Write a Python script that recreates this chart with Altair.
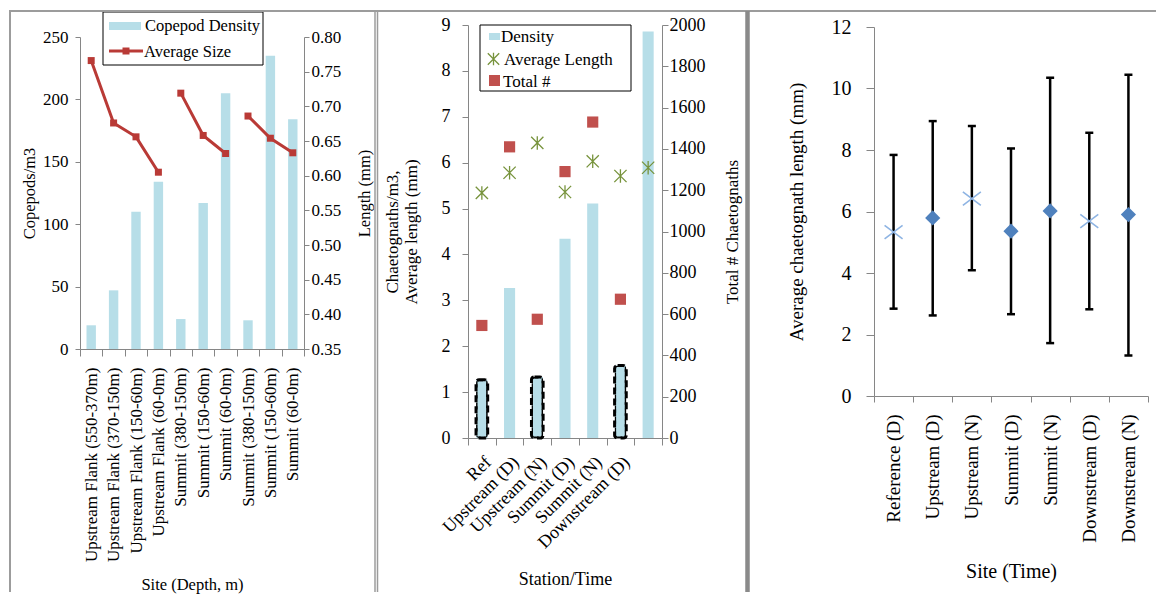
import json
import altair as alt
import pandas as pd

FONT = "Liberation Serif"
GREY = "#868686"
FRAME = "#9C9C9C"
FRAME_DARK = "#8A8A8A"
BLUE_BAR = "#B7DEE8"
RED_LINE = "#B93A36"
RED_SQ = "#C0504D"
GREEN = "#77933C"
DIAMOND = "#4F81BD"
XBLUE = "#8EB4E3"

# ---------------- Panel 1: copepods ----------------
cop_sites = [
    "Upstream Flank (550-370m)", "Upstream Flank (370-150m)", "Upstream Flank (150-60m)",
    "Upstream Flank (60-0m)", "Summit (380-150m)", "Summit (150-60m)", "Summit (60-0m)",
    "Summit (380-150m)", "Summit (150-60m)", "Summit (60-0m)",
]
cop_density = [19, 47, 110, 134, 24, 117, 205, 23, 235, 184]
cop_size = [0.766, 0.676, 0.656, 0.605, 0.719, 0.658, 0.632, 0.686, 0.654, 0.633]
cop_transect = [1, 1, 1, 1, 2, 2, 2, 3, 3, 3]
cop_size_ticks = [0.35, 0.40, 0.45, 0.50, 0.55, 0.60, 0.65, 0.70, 0.75, 0.80]

# ---------------- Panel 2: chaetognaths ----------------
stations = ["Ref", "Upstream (D)", "Upstream (N)", "Summit (D)", "Summit (N)",
            "Downstream (D)", "Downstream (N)"]
chaet_density = [1.27, 3.27, 1.33, 4.34, 5.11, 1.58, 8.86]
chaet_length = [5.34, 5.78, 6.43, 5.36, 6.03, 5.71, 5.89]
chaet_total = [545, 1410, 575, 1290, 1530, 672, None]
dashed_outline = [True, False, True, False, False, True, False]

# ---------------- Panel 3: chaetognath length ----------------
sites3 = ["Reference (D)", "Upstream (D)", "Upstream (N)", "Summit (D)", "Summit (N)",
          "Downstream (D)", "Downstream (N)"]
len_mean = [5.33, 5.79, 6.42, 5.36, 6.02, 5.69, 5.90]
len_upper = [7.84, 8.94, 8.78, 8.05, 10.35, 8.56, 10.45]
len_lower = [2.84, 2.62, 4.09, 2.66, 1.72, 2.82, 1.32]
marker_kind = ["x", "diamond", "x", "diamond", "diamond", "x", "diamond"]

STAR_PATH = "M-1,-1L1,1M-1,1L1,-1M0,-1.1L0,1.1"
X_PATH = "M-1,-0.75L1,0.75M-1,0.75L1,-0.75"

one = pd.DataFrame({"k": [0]})


def box(x, x2, y, y2, **kw):
    return alt.Chart(one).mark_rect(**kw).encode(
        x=alt.value(x), x2=alt.value(x2), y=alt.value(y), y2=alt.value(y2))


def label(t, x, y, size):
    return alt.Chart(one).mark_text(text=t, align="left", baseline="middle", font=FONT,
                                    fontSize=size, color="black").encode(
        x=alt.value(x), y=alt.value(y))


def hline(x, x2, y, color, w):
    return alt.Chart(one).mark_rule(color=color, strokeWidth=w).encode(
        x=alt.value(x), x2=alt.value(x2), y=alt.value(y))


def vline(x, y, y2, color, w):
    return alt.Chart(one).mark_rule(color=color, strokeWidth=w).encode(
        x=alt.value(x), y=alt.value(y), y2=alt.value(y2))


def marker(x, y, **kw):
    return alt.Chart(one).mark_point(opacity=1, **kw).encode(x=alt.value(x), y=alt.value(y))


def spacer(w, h):
    return alt.Chart(one).mark_point(opacity=0).encode(
        x=alt.value(0), y=alt.value(0)).properties(width=w, height=h)


H = 413  # common view height (page y 23 .. 436)

# ---------------- Panel 1 ----------------
W1 = 224
T1, B1 = 12, 324           # plot top / bottom inside the common view
df1 = pd.DataFrame({"idx": list(range(len(cop_sites))), "density": cop_density,
                    "size": cop_size, "transect": cop_transect})
x1 = alt.X("idx:O", scale=alt.Scale(paddingInner=0, paddingOuter=0),
           axis=alt.Axis(title="Site (Depth, m)", labelExpr=json.dumps(cop_sites) + "[datum.value]",
                         labelAngle=270, labelFontSize=17, labelLimit=400, labelPadding=11,
                         labelOverlap=False, tickSize=7, tickBand="extent", titleFontSize=16.5,
                         titleY=235, titleBaseline="middle", offset=B1 - H))
bars1 = alt.Chart(df1).mark_bar(color=BLUE_BAR, width=alt.RelativeBandSize(0.42)).encode(
    x=x1,
    y=alt.Y("density:Q", scale=alt.Scale(domain=[0, 250], nice=False, range=[B1, T1]),
            axis=alt.Axis(title="Copepods/m3", orient="left", values=[0, 50, 100, 150, 200, 250],
                          tickSize=5, labelPadding=7, labelFontSize=17, titleFontSize=16.5,
                          titleX=-51, titleY=(T1 + B1) / 2, titleAngle=270,
                          titleBaseline="middle", titleAlign="center")))
line1 = alt.Chart(df1).mark_line(
    color=RED_LINE, strokeWidth=3,
    point=alt.OverlayMarkDef(shape="square", size=49, filled=True, color=RED_LINE, opacity=1)
).encode(
    x=x1,
    y=alt.Y("size:Q", scale=alt.Scale(domain=[0.35, 0.80], nice=False, zero=False, range=[B1, T1]),
            axis=alt.Axis(title="Length (mm)", orient="right", values=cop_size_ticks, format=".2f",
                          tickSize=5, labelPadding=2, labelFontSize=17, titleFontSize=16.5,
                          titleX=60, titleY=(T1 + B1) / 2, titleAngle=270,
                          titleBaseline="middle", titleAlign="center")),
    detail="transect:N")

legend1 = [
    box(23, 183, -13, 40, fill="white", stroke="black", strokeWidth=1),
    box(29, 61, -3, 5, fill=BLUE_BAR),
    label("Copepod Density", 65, 1, 16.5),
    hline(29, 63, 26, RED_LINE, 3),
    marker(46, 26, shape="square", size=49, filled=True, color=RED_LINE),
    label("Average Size", 64, 27, 16.5),
]

# frames (relative to panel-1 view origin at page x 79, y 23)
frames = [
    hline(-71, 1076, -14, FRAME, 2),
    vline(-70, -14, 567, FRAME, 2),
    vline(295, -14, 567, FRAME, 1.5),
    vline(297.5, -14, 567, FRAME, 1.5),
    vline(667.5, -14, 567, FRAME_DARK, 4.5),
]

panel1 = alt.layer(
    alt.layer(bars1, line1).resolve_scale(y="independent"),
    *legend1, *frames
).properties(width=W1, height=H)

# ---------------- Panel 2 ----------------
W2 = 194
df2 = pd.DataFrame({"station": stations, "density": chaet_density, "length": chaet_length,
                    "total": chaet_total, "dashed": dashed_outline})
x2 = alt.X("station:N", sort=stations,
           scale=alt.Scale(domain=stations, paddingInner=0, paddingOuter=0),
           axis=alt.Axis(title="Station/Time", labelAngle=315,
                         labelExpr="datum.value == 'Downstream (N)' ? '' : datum.label",
                         labelFontSize=18, labelPadding=8, labelLimit=300, labelOverlap=False,
                         tickSize=7, tickBand="extent", titleFontSize=18, titleY=141,
                         titleBaseline="middle"))
ysc2 = alt.Scale(domain=[0, 9], nice=False)
left2_axis = alt.Axis(title=["Chaetognaths/m3,", "Average length (mm)"], orient="left",
                      values=list(range(10)), tickSize=6, labelPadding=12, labelFontSize=18,
                      titleFontSize=17, titleX=-76, titleY=H / 2, titleAngle=270,
                      titleBaseline="middle", titleAlign="center", titleLineHeight=19)
bars2 = alt.Chart(df2).mark_bar(color=BLUE_BAR, width=alt.RelativeBandSize(0.40)).encode(
    x=x2, y=alt.Y("density:Q", scale=ysc2, axis=left2_axis))
outline2 = alt.Chart(df2).transform_filter("datum.dashed").mark_bar(
    filled=False, stroke="black", strokeWidth=3, strokeDash=[7, 4], cornerRadius=3,
    width=alt.RelativeBandSize(0.42)).encode(
    x=x2, y=alt.Y("density:Q", scale=ysc2, axis=left2_axis))
ast2 = alt.Chart(df2).mark_point(shape=STAR_PATH, size=150, filled=False, stroke=GREEN,
                                 strokeWidth=1.3, opacity=1).encode(
    x=x2, y=alt.Y("length:Q", scale=ysc2, axis=left2_axis))
sq2 = alt.Chart(df2).transform_filter("isValid(datum.total)").mark_point(
    shape="square", size=125, filled=True, color=RED_SQ, opacity=1).encode(
    x=x2,
    y=alt.Y("total:Q", scale=alt.Scale(domain=[0, 2000], nice=False),
            axis=alt.Axis(title="Total # Chaetognaths", orient="right", format="d",
                          values=list(range(0, 2001, 200)), tickSize=6, labelPadding=1,
                          labelFontSize=18, titleFontSize=17, titleX=70, titleY=H / 2,
                          titleAngle=270, titleBaseline="middle", titleAlign="center")))

legend2 = [
    box(12, 163, 0, 66, fill="white", stroke="black", strokeWidth=1),
    box(21, 32, 8, 15, fill=BLUE_BAR),
    label("Density", 33, 11.5, 17),
    marker(25.5, 34, shape=STAR_PATH, size=130, filled=False, stroke=GREEN, strokeWidth=1.3),
    label("Average Length", 36, 34.5, 17),
    marker(26.5, 55.5, shape="square", size=121, filled=True, color=RED_SQ),
    label("Total #", 35, 56.5, 17),
]

panel2 = alt.layer(
    alt.layer(alt.layer(bars2, outline2, ast2), sq2).resolve_scale(y="independent"),
    *legend2
).properties(width=W2, height=H)

# ---------------- Panel 3 ----------------
W3 = 274
T3, B3 = 2, 371
df3 = pd.DataFrame({"site": sites3, "mean": len_mean, "upper": len_upper,
                    "lower": len_lower, "kind": marker_kind})
x3 = alt.X("site:N", sort=sites3, scale=alt.Scale(domain=sites3, paddingInner=0, paddingOuter=0),
           axis=alt.Axis(title="Site (Time)", labelAngle=270, labelFontSize=19, labelPadding=12,
                         labelLimit=300, labelOverlap=False, tickSize=6, tickBand="extent",
                         titleFontSize=20, titleY=175, titleBaseline="middle", offset=B3 - H))
ysc3 = alt.Scale(domain=[0, 12], nice=False, range=[B3, T3])
y3_axis = alt.Axis(title="Average chaetognath length (mm)", orient="left",
                   values=[0, 2, 4, 6, 8, 10, 12], tickSize=8, labelPadding=15,
                   labelFontSize=20, titleFontSize=19, titleX=-78, titleY=(T3 + B3) / 2,
                   titleAngle=270, titleBaseline="middle", titleAlign="center")
rule3 = alt.Chart(df3).mark_rule(color="black", strokeWidth=2.5).encode(
    x=x3, y=alt.Y("lower:Q", scale=ysc3, axis=y3_axis), y2="upper:Q")
cap_hi = alt.Chart(df3).mark_tick(orient="horizontal", color="black", thickness=2.5, size=8,
                                  opacity=1).encode(
    x=x3, y=alt.Y("upper:Q", scale=ysc3, axis=y3_axis))
cap_lo = alt.Chart(df3).mark_tick(orient="horizontal", color="black", thickness=2.5, size=8,
                                  opacity=1).encode(
    x=x3, y=alt.Y("lower:Q", scale=ysc3, axis=y3_axis))
dia3 = alt.Chart(df3).transform_filter("datum.kind == 'diamond'").mark_point(
    shape="diamond", filled=True, size=230, color=DIAMOND, opacity=1).encode(
    x=x3, y=alt.Y("mean:Q", scale=ysc3, axis=y3_axis))
xm3 = alt.Chart(df3).transform_filter("datum.kind == 'x'").mark_point(
    shape=X_PATH, filled=False, size=324, stroke=XBLUE, strokeWidth=1.6, opacity=1).encode(
    x=x3, y=alt.Y("mean:Q", scale=ysc3, axis=y3_axis))

panel3 = alt.layer(rule3, cap_hi, cap_lo, dia3, xm3).properties(width=W3, height=H)

# ---------------- layout ----------------
chart = alt.hconcat(
    panel1, spacer(164, 1), panel2, spacer(212, 1), panel3, spacing=0, bounds="flush"
).properties(padding=0).configure_view(stroke=None).configure_axis(
    grid=False, labelFont=FONT, titleFont=FONT, labelColor="black", titleColor="black",
    titleFontWeight="normal", domainColor=GREY, tickColor=GREY, domainWidth=1, tickWidth=1)

chart.save("out.html", embed_options={"renderer": "svg", "actions": False})
